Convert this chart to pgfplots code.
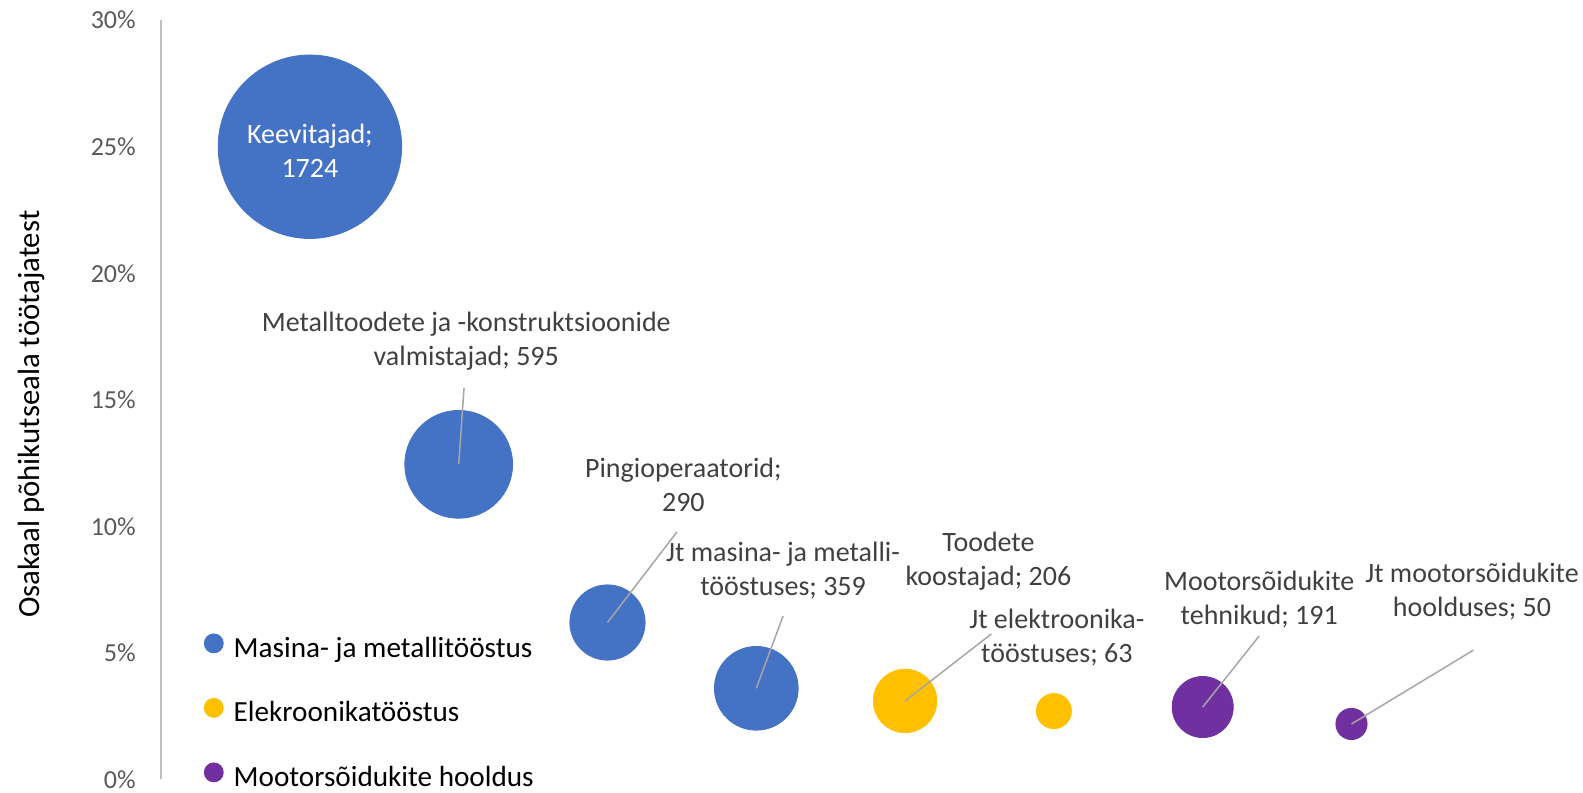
\documentclass[border=0pt]{standalone}
\usepackage{pgfplots}
\pgfplotsset{compat=1.18}
\usepackage{fontspec}
\setmainfont{Carlito}
\definecolor{blu}{RGB}{68,114,196}
\definecolor{ylw}{RGB}{255,192,0}
\definecolor{prp}{RGB}{112,48,160}
\definecolor{lblgrey}{RGB}{64,64,64}
\definecolor{tck}{RGB}{89,89,89}
\definecolor{axl}{RGB}{191,191,191}
\definecolor{ldr}{RGB}{166,166,166}

\tikzset{
  dlabel/.style={align=center, text=lblgrey, inner sep=0pt,
      font=\fontsize{14}{16.8}\selectfont},
  leader/.style={ldr, line width=0.75pt},
}

% x, y (%), n (bubble size = number of workers)
\pgfplotstableread{
x y n
1 25.0 1724
2 12.45 595
3 6.2 290
4 3.6 359
}\masin
\pgfplotstableread{
x y n
5 3.1 206
6 2.7 63
}\elek
\pgfplotstableread{
x y n
7 2.86 191
8 2.19 50
}\mootor

\begin{document}
\begin{tikzpicture}
\useasboundingbox (0,0) rectangle (791.5pt,396pt);
\begin{axis}[
    at={(80.55pt,6.3pt)}, anchor=south west,
    scale only axis, width=710.95pt, height=379.6pt,
    xmin=0, xmax=9.556, ymin=0, ymax=30,
    axis x line=none, axis y line=left,
    y axis line style={-, draw=axl, line width=0.75pt},
    xtick=\empty,
    ytick={0,5,10,15,20,25,30},
    yticklabels={0\%,5\%,10\%,15\%,20\%,25\%,30\%},
    major tick length=0pt,
    yticklabel style={anchor=east, inner sep=0pt, xshift=-12.5pt,
        font=\fontsize{13}{15}\selectfont, text=tck},
    ylabel={Osakaal põhikutseala töötajatest},
    ylabel style={at={(axis description cs:-0.0913,0.481)}, anchor=center,
        font=\fontsize{15.4}{18}\selectfont, text=black},
    clip=false,
    legend cell align=left,
    legend style={draw=none, fill=none, at={(axis description cs:0.0256,0.198)},
        anchor=north west, font=\fontsize{14.6}{17}\selectfont, text=black,
        row sep=17.3pt,
        nodes={inner sep=0pt, text height=10pt, text depth=3pt},
        /tikz/every odd column/.append style={column sep=5pt}},
    bubble/.style={only marks, mark=*, scatter,
        scatter/use mapped color={draw=#1, fill=#1},
        visualization depends on={1.105*sqrt(\thisrow{n}) \as \rad},
        scatter/@pre marker code/.append style={/tikz/mark size=\rad},
        forget plot},
    % labels and leader lines go on top of the bubbles
    after end axis/.code={
      \draw[leader] (axis cs:2.036,15.47) -- (axis cs:2,12.45);
      \draw[leader] (axis cs:3.467,9.78) -- (axis cs:3,6.2);
      \draw[leader] (axis cs:4.18,6.46) -- (axis cs:4,3.6);
      \draw[leader] (axis cs:5.58,5.75) -- (axis cs:5,3.1);
      \draw[leader] (axis cs:7.38,5.67) -- (axis cs:7,2.86);
      \draw[leader] (axis cs:8.82,5.11) -- (axis cs:8,2.19);
      \node[dlabel, text=white] at (axis cs:1,24.85) {Keevitajad;\\1724};
      \node[dlabel] at (axis cs:2.051,17.31) {Metalltoodete ja -konstruktsioonide\\valmistajad; 595};
      \node[dlabel] at (axis cs:3.51,11.65) {Pingioperaatorid;\\290};
      \node[dlabel] at (axis cs:4.18,8.25) {Jt masina- ja metalli-\\tööstuses; 359};
      \node[dlabel] at (axis cs:5.56,8.62) {Toodete\\koostajad; 206};
      \node[dlabel] at (axis cs:6.02,5.60) {Jt elektroonika-\\tööstuses; 63};
      \node[dlabel] at (axis cs:7.38,7.10) {Mootorsõidukite\\tehnikud; 191};
      \node[dlabel] at (axis cs:8.81,7.42) {Jt mootorsõidukite\\hoolduses; 50};
    },
]
  \addplot[bubble=blu] table[x=x, y=y] {\masin};
  \addplot[bubble=ylw] table[x=x, y=y] {\elek};
  \addplot[bubble=prp] table[x=x, y=y] {\mootor};

  \addlegendimage{legend image code/.code={\fill[blu] (4.75pt,3.5pt) circle (4.75pt);}}
  \addlegendentry{Masina- ja metallitööstus}
  \addlegendimage{legend image code/.code={\fill[ylw] (4.75pt,3.5pt) circle (4.75pt);}}
  \addlegendentry{Elekroonikatööstus}
  \addlegendimage{legend image code/.code={\fill[prp] (4.75pt,3.5pt) circle (4.75pt);}}
  \addlegendentry{Mootorsõidukite hooldus}
\end{axis}
\end{tikzpicture}
\end{document}
